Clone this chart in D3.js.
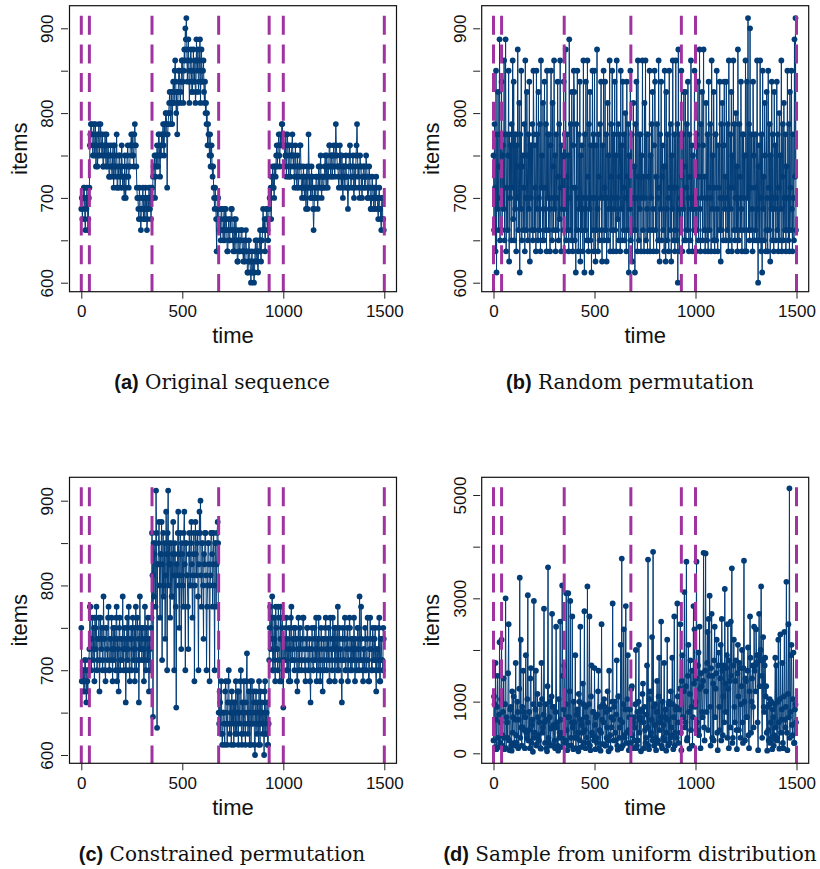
<!DOCTYPE html>
<html><head><meta charset="utf-8">
<script src="https://cdn.jsdelivr.net/npm/d3@7"></script>
<style>body{margin:0;background:#fff} svg{display:block}</style>
</head><body><svg id="c" width="820" height="869"></svg>
<script>
// ---------------- data ----------------
const timeStep = 2.5; // one sample every 2.5 time units
const changePoints = [0, 40, 350, 680, 930, 1000, 1500];
const xTicks = [0, 500, 1000, 1500];
const itemTicks = [600, 650, 700, 750, 800, 850, 900];
const itemLabels = [600, 700, 800, 900];
const uniformTicks = [0, 1000, 2000, 3000, 4000, 5000];
const uniformLabels = [0, 1000, 3000, 5000];
const captionTags = ["(a)", "(b)", "(c)", "(d)"];
const captionTexts = ["Original sequence", "Random permutation", "Constrained permutation", "Sample from uniform distribution"];

const originalSeq = [
 687,700,675,687,700,712,712,675,662,700,687,712,700,662,675,700,712,762,775,787,
 787,775,762,750,775,787,750,762,787,737,762,775,737,750,775,787,750,762,787,775,
 762,750,775,737,737,762,750,775,762,737,775,750,737,762,750,725,725,750,762,737,
 737,725,750,762,712,737,762,725,737,750,775,712,712,737,725,750,750,712,737,725,
 762,737,712,725,725,700,750,712,700,725,737,750,762,725,712,737,737,762,762,775,
 750,762,775,750,737,775,787,762,762,737,712,700,700,687,675,712,700,675,662,687,
 687,700,712,675,700,687,675,712,687,700,662,675,700,687,712,700,687,712,675,700,
 712,700,725,737,737,750,700,725,750,737,762,750,737,775,775,750,725,762,750,775,
 762,775,787,762,750,787,775,800,800,787,712,775,787,800,812,825,800,787,825,812,
 787,812,837,825,812,850,862,837,800,825,775,812,825,850,850,837,812,825,837,862,
 862,837,812,850,875,862,900,887,912,875,837,862,887,850,812,837,862,875,850,825,
 825,850,875,837,837,862,812,825,887,862,850,875,825,837,862,887,812,850,875,837,
 837,850,862,825,812,837,800,812,787,800,762,787,775,762,750,775,737,750,762,737,
 725,737,712,700,687,712,700,675,637,687,675,700,687,662,662,675,650,687,687,662,
 662,650,675,687,650,662,687,675,662,637,637,662,675,650,650,675,662,687,687,662,
 650,637,662,675,637,650,675,662,650,625,625,650,662,637,637,650,650,662,662,637,
 637,625,650,637,625,650,662,637,637,612,612,625,650,637,625,612,600,625,637,612,
 612,625,600,612,637,650,625,637,650,625,612,637,637,650,662,637,625,650,650,662,
 687,662,662,675,637,662,675,687,687,662,650,675,687,700,700,712,675,725,712,737,
 725,712,700,737,737,725,750,762,737,750,762,775,750,737,775,762,762,787,787,775,
 775,762,762,737,750,775,725,750,775,762,737,725,762,750,725,737,750,762,775,750,
 737,750,712,725,762,737,725,712,750,737,712,725,737,762,762,737,712,700,725,712,
 737,712,700,725,712,687,725,737,687,712,775,737,712,725,700,712,737,700,725,687,
 662,687,712,700,700,725,725,712,687,700,737,725,712,737,750,712,700,725,725,712,
 712,725,737,750,725,712,750,737,712,725,737,762,762,737,725,750,750,725,737,750,
 762,737,725,750,787,762,750,737,737,725,712,737,762,750,725,712,750,725,700,737,
 737,725,712,737,750,725,725,712,687,712,737,750,762,737,712,725,725,737,750,712,
 700,725,737,712,750,762,787,750,725,737,712,700,750,737,737,712,700,725,725,737,
 737,712,712,725,750,737,725,700,700,712,737,725,712,687,687,700,725,712,700,687,
 712,700,687,712,725,700,700,687,675,700,712,687,687,675,662,700,700,675,675,662];

const randomPerm = [
 750,662,787,712,637,850,612,775,687,825,662,737,887,650,775,700,837,662,750,762,
 687,862,650,775,887,637,712,775,662,750,850,625,775,700,762,650,787,712,862,675,
 837,650,775,687,775,637,762,700,875,662,737,812,612,775,687,850,650,737,750,662,
 712,787,637,862,700,662,825,750,650,775,687,837,625,762,700,762,662,787,650,850,
 775,662,762,712,637,850,687,775,650,825,700,662,787,637,862,712,750,650,812,687,
 650,837,712,662,787,637,850,700,775,662,775,687,637,762,850,700,650,812,737,662,
 862,687,750,637,775,700,662,837,725,650,787,675,862,712,637,762,687,750,662,837,
 637,775,687,875,650,725,775,662,750,637,887,700,662,787,650,825,712,637,762,850,
 825,650,712,612,787,662,850,700,637,775,687,837,625,750,662,762,700,637,862,687,
 612,775,662,837,700,650,862,725,637,787,687,825,650,762,612,700,850,662,775,637,
 850,700,625,762,662,875,687,637,775,725,650,787,700,837,662,625,762,700,850,650,
 712,837,662,775,625,700,812,650,750,687,862,637,725,787,662,850,700,637,775,687,
 837,662,750,637,862,700,675,787,650,775,725,637,850,687,762,650,837,712,662,775,
 650,800,700,637,837,725,662,787,612,750,687,850,650,737,775,625,700,812,662,737,
 612,787,662,837,700,637,862,725,650,775,687,775,637,750,700,862,662,725,637,812,
 700,862,650,775,687,637,775,725,662,850,637,750,700,787,662,825,687,637,762,850,
 837,662,725,637,787,700,650,862,712,625,775,687,837,650,725,762,662,737,637,850,
 737,625,825,687,650,775,700,637,850,712,662,787,625,750,687,862,650,712,775,637,
 662,862,712,650,787,600,875,687,637,775,700,662,850,725,637,775,687,825,650,737,
 825,650,712,787,662,837,700,637,775,725,650,862,687,762,637,750,700,662,850,687,
 700,637,775,662,762,837,650,725,875,687,637,787,700,825,650,762,875,662,725,637,
 662,812,700,650,775,637,837,712,662,787,700,637,862,687,750,650,825,712,637,775,
 775,650,850,687,637,762,712,662,837,700,625,787,662,812,700,650,762,837,687,725,
 650,837,700,662,787,637,862,712,650,775,687,825,637,750,712,862,662,787,650,700,
 800,662,737,637,875,700,650,787,725,662,837,687,637,775,700,775,662,750,637,862,
 750,637,837,700,912,662,787,650,900,712,662,775,687,637,837,750,650,775,712,662,
 775,650,862,687,600,737,762,650,862,700,637,775,612,850,687,725,650,812,750,637,
 662,825,700,637,850,712,662,787,625,750,687,837,650,775,700,637,825,687,762,650,
 700,837,662,775,637,712,800,650,750,687,862,637,725,787,650,812,700,662,775,637,
 737,662,850,700,650,787,637,825,712,662,850,687,637,775,700,650,887,725,912,662];

const constrainedPerm = [
 750,687,687,700,700,675,675,712,712,687,662,700,687,675,700,712,725,775,775,737,
 700,737,762,712,725,750,687,762,750,725,775,700,712,737,737,762,675,712,762,737,
 725,750,700,712,787,737,737,700,687,750,750,725,712,762,775,700,700,737,737,712,
 762,725,687,750,725,712,750,737,700,762,775,687,737,725,675,750,762,700,712,737,
 737,712,787,725,700,750,725,737,662,700,750,762,712,725,775,700,687,737,737,750,
 700,737,762,712,725,750,687,725,775,700,712,762,750,737,662,712,787,725,725,750,
 712,737,750,725,687,712,775,737,700,750,737,712,762,725,675,737,725,700,750,762,
 862,812,645,850,787,837,850,775,912,862,632,825,825,850,875,800,762,837,837,875,
 712,825,862,787,800,850,737,812,887,837,700,862,912,800,825,850,762,825,850,787,
 787,837,875,812,700,850,837,775,656,825,812,862,887,800,750,837,862,812,725,850,
 837,800,775,862,887,825,700,850,850,812,812,775,725,837,862,800,800,850,875,825,
 762,812,837,862,687,800,875,837,812,850,862,787,700,825,887,862,900,812,775,850,
 850,800,737,837,825,862,862,812,700,775,800,850,850,825,687,800,812,862,862,837,
 775,825,862,800,700,850,850,775,825,862,875,850,650,637,675,662,625,687,650,612,
 625,650,650,637,612,675,687,650,637,612,662,687,700,637,625,662,650,612,675,650,
 637,662,612,650,662,625,687,637,625,675,650,612,675,650,637,687,700,625,612,662,
 650,625,687,650,637,612,662,687,720,650,625,637,675,612,650,687,612,637,687,650,
 637,675,662,612,600,650,675,637,625,662,650,612,687,637,612,675,637,650,662,625,
 650,637,600,675,687,625,625,650,662,612,612,637,712,750,775,725,737,762,787,700,
 700,737,762,712,687,775,750,725,725,700,775,762,712,687,737,775,687,750,762,712,
 656,737,737,712,712,750,762,700,700,737,725,687,750,725,687,762,775,712,712,737,
 725,750,700,712,750,737,737,687,675,725,762,700,712,750,725,737,700,712,737,762,
 762,725,712,700,687,737,725,750,750,712,700,725,737,687,662,725,725,750,712,700,
 700,737,750,712,725,762,687,725,737,700,762,737,712,687,700,750,725,712,675,737,
 737,700,712,750,762,725,700,737,725,712,750,687,687,762,737,725,712,700,762,737,
 725,750,687,712,750,737,712,700,775,725,700,750,737,712,725,687,662,737,750,712,
 712,737,762,700,700,725,737,750,687,712,725,762,750,700,712,737,700,725,737,712,
 762,725,687,737,725,700,712,750,750,725,700,787,737,712,775,737,712,700,687,725,
 725,700,750,737,700,712,737,762,712,687,687,725,762,737,725,700,700,750,737,712,
 712,737,750,700,675,725,725,712,700,750,762,687,687,737,737,712,712,700,750,737];

const uniformSample = [
 250,1100,950,120,1750,650,80,900,1500,300,120,750,2150,200,600,1050,2200,150,350,800,
 1450,300,80,950,3000,100,700,600,300,1550,2500,250,60,850,900,150,50,1200,400,700,
 1100,200,150,650,1750,350,200,1000,800,100,650,1250,3400,300,2200,500,150,900,500,1600,
 800,450,100,700,1900,400,300,1050,3060,250,450,800,100,1450,1650,200,550,650,30,950,
 2950,300,400,850,1600,150,180,1150,700,350,250,600,950,100,90,1750,1050,400,500,750,
 2800,600,200,950,650,100,40,1300,3600,300,200,700,1000,150,480,1100,2700,900,150,550,
 900,250,100,800,2450,500,600,150,50,1050,300,400,2550,650,120,300,3250,1500,400,850,
 1700,200,250,950,3100,450,60,700,3100,150,700,1200,2950,300,150,600,2650,500,80,1000,
 600,300,1900,100,300,750,850,400,40,1150,1000,250,2450,650,120,550,400,1350,950,200,
 2750,450,100,900,700,300,3230,600,200,950,2650,150,60,1100,1700,400,350,800,800,250,
 1650,550,80,700,300,200,750,1200,1600,100,450,900,50,400,2500,650,180,950,600,1050,
 900,150,150,800,300,500,1200,250,40,1600,850,350,100,700,500,1000,2900,650,250,900,
 1000,400,250,750,1800,150,70,1100,1100,300,500,650,2100,100,3770,600,150,950,2400,350,
 300,850,2850,200,400,1050,1900,450,60,700,850,150,200,1250,1300,350,100,600,700,250,
 500,950,2000,100,150,800,250,1000,2100,400,650,700,40,850,800,1150,1350,600,100,900,
 450,200,300,750,1700,500,3750,150,80,1050,1200,350,400,650,2250,250,3900,900,150,550,
 950,300,60,800,1400,200,250,1100,1850,450,600,700,2550,150,100,1000,300,550,1750,250,
 700,850,50,400,2200,650,150,950,1000,200,300,1200,500,350,1850,950,80,700,2650,150,
 400,850,900,300,2900,1100,200,600,850,1250,2500,400,60,1400,1900,700,700,1200,3120,500,
 600,1300,3710,250,300,1500,2100,800,90,1150,1800,450,900,1600,150,700,2850,1350,2400,900,
 1000,1450,3710,600,450,1700,1950,350,2450,1250,100,1550,1300,800,700,1400,3880,500,250,1600,
 3870,1200,800,1750,2350,450,2600,1500,3050,900,150,1650,2700,300,1500,1350,250,1800,2450,700,
 1250,1550,2200,400,60,1700,1950,900,450,1450,2100,250,2600,1600,350,1100,1700,600,3180,1350,
 800,1650,1900,300,2500,1250,100,1800,1400,500,2550,1500,3580,200,300,1700,2200,900,600,1400,
 1800,450,80,1550,2100,1100,450,1750,1650,300,950,1300,2000,600,200,1650,3729,1000,250,1450,
 1400,700,700,1600,2050,350,100,1200,2650,1850,400,1000,1450,1700,900,500,2450,1600,1700,1200,
 2400,1750,1900,600,60,1900,2700,1300,1800,2000,3230,1500,300,1800,2250,900,800,1700,1850,1100,
 1300,400,50,900,450,250,950,1050,200,600,1000,300,80,850,700,150,350,950,1850,500,
 1700,250,300,1000,2200,600,90,1050,2300,400,650,850,1750,200,100,1100,2350,650,500,900,
 3320,400,60,1150,2500,700,5130,300,800,1900,2100,550,350,1050,1950,200,200,850,950,600];

// ---------------- layout ----------------
const W = 820, H = 869;
const boxW = 327, boxH = 286;
const colLeft = [69.5, 481.7];
const rowTop = [5.7, 477.3];
const capCenter = [222, 630];
const rowOffsetCaption = 389 - 5.7;
const blue = "#033d77";
const magenta = "#a0339f";
const sans = "'Liberation Sans', Arial, Helvetica, sans-serif";
const serif = "'DejaVu Serif', 'Liberation Serif', serif";

const svg = d3.select("#c");
svg.append("rect").attr("width", W).attr("height", H).attr("fill", "#fff");

const panelDefs = [
  {data: originalSeq, col: 0, row: 0, dom: [600, 900], px: [277, 22.6], ticks: itemTicks, labels: itemLabels},
  {data: randomPerm, col: 1, row: 0, dom: [600, 900], px: [277, 22.6], ticks: itemTicks, labels: itemLabels},
  {data: constrainedPerm, col: 0, row: 1, dom: [600, 900], px: [277.7, 23.4], ticks: itemTicks, labels: itemLabels},
  {data: uniformSample, col: 1, row: 1, dom: [0, 5000], px: [276, 17.7], ticks: uniformTicks, labels: uniformLabels}
];

panelDefs.forEach((p, k) => {
  const L = colLeft[p.col], T = rowTop[p.row];
  const g = svg.append("g").attr("transform", `translate(${L},${T})`);
  const x = d3.scaleLinear().domain([0, 1500]).range([11.8, 314.8]);
  const y = d3.scaleLinear().domain(p.dom).range(p.px);

  const clipId = "clip" + k;
  g.append("clipPath").attr("id", clipId).append("rect")
    .attr("x", 0).attr("y", 0).attr("width", boxW).attr("height", boxH);

  const pts = p.data.map((v, i) => ({t: i * timeStep, v}));
  const plot = g.append("g").attr("clip-path", `url(#${clipId})`);
  plot.append("path").datum(pts)
    .attr("fill", "none").attr("stroke", blue).attr("stroke-width", 1)
    .attr("d", d3.line().x(d => x(d.t)).y(d => y(d.v)));
  plot.append("g").selectAll("circle").data(pts).join("circle")
    .attr("cx", d => x(d.t)).attr("cy", d => y(d.v)).attr("r", 2.9)
    .attr("fill", blue);

  // change points
  plot.append("g").selectAll("line").data(changePoints).join("line")
    .attr("x1", d => x(d)).attr("x2", d => x(d))
    .attr("y1", 10).attr("y2", boxH)
    .attr("stroke", magenta).attr("stroke-width", 3)
    .attr("stroke-dasharray", "19 9.7");

  // box
  g.append("rect").attr("x", 0).attr("y", 0).attr("width", boxW).attr("height", boxH)
    .attr("fill", "none").attr("stroke", "#111").attr("stroke-width", 1.2);

  // y axis
  const ya = g.append("g").attr("transform", "translate(-1.5,0)")
    .call(d3.axisLeft(y).tickValues(p.ticks).tickSize(7).tickSizeOuter(0)
      .tickFormat(d => p.labels.includes(d) ? String(d) : ""));
  ya.select(".domain").remove();
  ya.selectAll(".tick line").attr("stroke", "#222").attr("stroke-width", 1);
  ya.selectAll(".tick text")
    .attr("transform", "rotate(-90)")
    .attr("x", 0).attr("y", -14.7).attr("dy", 0)
    .attr("text-anchor", "middle")
    .style("font-family", sans).style("font-size", "17px").attr("fill", "#111");

  // x axis
  const xa = g.append("g").attr("transform", `translate(0,${boxH})`)
    .call(d3.axisBottom(x).tickValues(xTicks).tickSize(7).tickSizeOuter(0).tickFormat(d3.format("d")));
  xa.select(".domain").remove();
  xa.selectAll(".tick line").attr("stroke", "#222").attr("stroke-width", 1);
  xa.selectAll(".tick text").attr("y", 25.6).attr("dy", 0)
    .style("font-family", sans).style("font-size", "17px").attr("fill", "#111");

  // axis titles
  g.append("text").attr("transform", `translate(${26.7 - 69.5},${boxH / 2}) rotate(-90)`)
    .attr("text-anchor", "middle")
    .style("font-family", sans).style("font-size", "22px").attr("fill", "#111")
    .text("items");
  g.append("text").attr("x", boxW / 2).attr("y", boxH + 51.5)
    .attr("text-anchor", "middle")
    .style("font-family", sans).style("font-size", "22px").attr("fill", "#111")
    .text("time");

  // caption
  const cap = svg.append("text")
    .attr("x", capCenter[p.col]).attr("y", T + rowOffsetCaption)
    .attr("text-anchor", "middle").attr("fill", "#111");
  cap.append("tspan").style("font-family", sans).style("font-weight", "bold").style("font-size", "20px")
    .text(captionTags[k]);
  cap.append("tspan").style("font-family", serif).style("font-size", "20px")
    .text(" " + captionTexts[k]);
});
</script>
</body></html>
